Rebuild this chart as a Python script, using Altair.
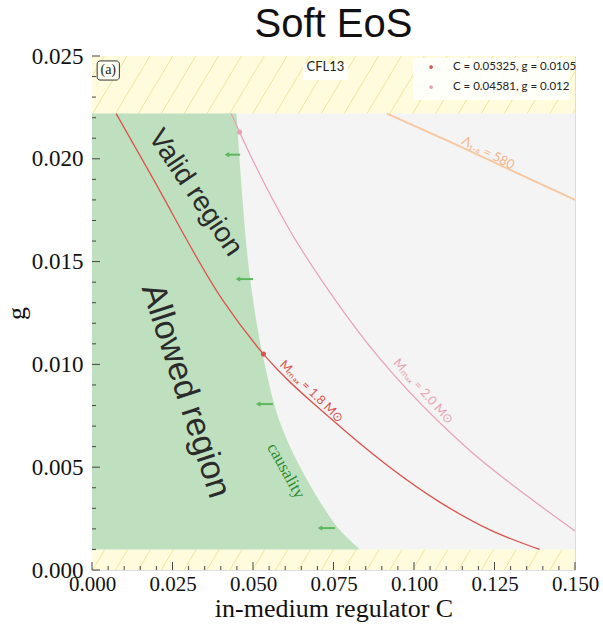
import altair as alt
import pandas as pd

W, H = 483, 514
C_MAX, G_MAX = 0.15, 0.025
G_LOW, G_HIGH = 0.001, 0.0222

# causality boundary: allowed region lies to the left of it
caus_g = [0.001, 0.00204, 0.00258, 0.00438, 0.0068, 0.0104, 0.0143, 0.0185, 0.0222]
caus_c = [0.0832, 0.0764, 0.0739, 0.0668, 0.0593, 0.0531, 0.0490, 0.0465, 0.0449]

# maximum-mass contours
m18_c = [0.0075, 0.018, 0.0407, 0.05325, 0.0739, 0.108, 0.1236, 0.139]
m18_g = [0.0222, 0.0193, 0.0131, 0.0105, 0.0074, 0.0033, 0.00195, 0.001]
m20_c = [0.0432, 0.0458, 0.0615, 0.0739, 0.0817, 0.1174, 0.136, 0.150]
m20_g = [0.0222, 0.0213, 0.0165, 0.0135, 0.0118, 0.0058, 0.0035, 0.0019]

# tidal deformability contour
lam_c = [0.0916, 0.1102, 0.1307, 0.150]
lam_g = [0.0222, 0.0209, 0.0194, 0.0180]

# marked parameter sets
pt_c = [0.05325, 0.04581]
pt_g = [0.0105, 0.0213]
pt_label = ["C = 0.05325, g = 0.0105", "C = 0.04581, g = 0.012"]
pt_color = ["#d9534f", "#e6a1b3"]

# arrows pointing into the allowed region
arrow_g = [0.0202, 0.01415, 0.00807, 0.00204]
arrow_tip = [0.0419, 0.0453, 0.0516, 0.0708]
arrow_tail = [0.0460, 0.0500, 0.0562, 0.0755]

x_ticks = [0.0, 0.025, 0.05, 0.075, 0.1, 0.125, 0.15]
y_ticks = [0.0, 0.005, 0.01, 0.015, 0.02, 0.025]

GREEN = "#bfe0bf"
GREY = "#f4f4f4"
YELLOW = "#fefcdc"
HATCH = "#efe4a2"
SERIF = "Liberation Serif"
SANS = "Liberation Sans"
HUMAN = "Lato"

xscale = alt.Scale(domain=[0, C_MAX], nice=False, zero=False)
yscale = alt.Scale(domain=[0, G_MAX], nice=False, zero=False)
xaxis = alt.Axis(values=x_ticks, format=".3f", title="in-medium regulator C",
                 ticks=False, tickSize=0, domain=False, grid=False,
                 labelFont=SERIF, labelFontSize=21, labelColor="#111",
                 labelPadding=3, labelFlush=False,
                 titleFont=SERIF, titleFontSize=26, titleFontWeight="normal",
                 titleColor="#111", titlePadding=1)
yaxis = alt.Axis(values=y_ticks, format=".3f", title="g",
                 ticks=False, tickSize=0, domain=False, grid=False,
                 labelFont=SERIF, labelFontSize=23, labelColor="#111",
                 labelPadding=9, labelFlush=False,
                 titleFont=SERIF, titleFontSize=26, titleFontWeight="normal",
                 titleColor="#111", titlePadding=2)


def X(f):
    return alt.X(f, type="quantitative", scale=xscale, axis=xaxis)


def Y(f):
    return alt.Y(f, type="quantitative", scale=yscale, axis=yaxis)


# background bands
bands = pd.DataFrame({
    "c0": [0, 0, 0], "c1": [C_MAX] * 3,
    "g0": [G_LOW, G_HIGH, 0], "g1": [G_HIGH, G_MAX, G_LOW],
    "col": [GREY, YELLOW, YELLOW],
})
band_layer = alt.Chart(bands).mark_rect().encode(
    x=X("c0"), x2="c1", y=Y("g0"), y2="g1",
    fill=alt.Fill("col:N", scale=None))

# diagonal hatching in the excluded bands
starts = [-0.014 + 0.0071 * i for i in range(24)]
hatch = pd.DataFrame(
    [{"a": s, "b": s + 0.0107, "g0": G_HIGH, "g1": G_MAX} for s in starts]
    + [{"a": s, "b": s + 0.0038, "g0": 0, "g1": G_LOW} for s in starts])
hatch_layer = alt.Chart(hatch).mark_rule(color=HATCH, strokeWidth=1, clip=True).encode(
    x=X("a"), x2="b", y=Y("g0"), y2="g1")

# allowed region
allowed = pd.DataFrame({"c": caus_c, "g": caus_g})
allowed_layer = alt.Chart(allowed).mark_area(
    orient="horizontal", interpolate="monotone", color=GREEN).encode(
    y=Y("g"), x=X("c"), x2=alt.datum(0))


def curve(cs, gs, color, width):
    df = pd.DataFrame({"c": cs, "g": gs})
    return alt.Chart(df).mark_line(interpolate="monotone", color=color,
                                   strokeWidth=width, clip=True).encode(
        x=X("c"), y=Y("g"), order="c:Q")


lam_layer = curve(lam_c, lam_g, "#f8c7a0", 1.9)
m20_layer = curve(m20_c, m20_g, "#e6a1b3", 1.2)
m18_layer = curve(m18_c, m18_g, "#d9534f", 1.3)

arrows = pd.DataFrame({"tip": arrow_tip, "tail": arrow_tail, "g": arrow_g})
arrow_shaft = alt.Chart(arrows).mark_rule(color="#5cb85c", strokeWidth=2).encode(
    x=X("tip"), x2="tail", y=Y("g"))
arrow_head = alt.Chart(arrows).mark_point(
    shape="triangle-left", filled=True, size=28, color="#5cb85c", opacity=1).encode(
    x=X("tip"), y=Y("g"))

pts = pd.DataFrame({"c": pt_c, "g": pt_g, "col": pt_color})
pts_layer = alt.Chart(pts).mark_circle(size=26, opacity=1).encode(
    x=X("c"), y=Y("g"), color=alt.Color("col:N", scale=None))

# annotation texts
notes = pd.DataFrame([
    {"t": "Valid  region", "c": 0.0320, "g": 0.01834, "a": 56, "s": 28, "f": SANS, "col": "#2b2b2b"},
    {"t": "Allowed region", "c": 0.0290, "g": 0.00871, "a": 72, "s": 34, "f": SANS, "col": "#2b2b2b"},
    {"t": "causality", "c": 0.0602, "g": 0.00482, "a": 61, "s": 17, "f": SERIF, "col": "#2e8b2e"},
    {"t": "Mₘₐₓ = 1.8 M⊙", "c": 0.0683, "g": 0.00868, "a": 44, "s": 12.5, "f": HUMAN, "col": "#d9534f"},
    {"t": "Mₘₐₓ = 2.0 M⊙", "c": 0.1030, "g": 0.00868, "a": 48, "s": 12.5, "f": HUMAN, "col": "#e6a1b3"},
    {"t": "Λ₁.₄ = 580", "c": 0.1230, "g": 0.02028, "a": 27, "s": 13, "f": HUMAN, "col": "#f5b48a"},
])
note_layers = [
    alt.Chart(notes.iloc[[i]]).mark_text(
        angle=float(r.a), fontSize=float(r.s), font=r.f, color=r.col,
        align="center", baseline="middle").encode(x=X("c"), y=Y("g"), text="t:N")
    for i, r in enumerate(notes.itertuples())
]

# boxes: panel tag, model name, legend
boxes = pd.DataFrame({
    "c0": [0.0016, 0.0655, 0.0997], "c1": [0.0085, 0.0795, 0.1484],
    "g0": [0.02383, 0.02383, 0.02286], "g1": [0.02476, 0.02461, 0.02490],
})
tag_box = alt.Chart(boxes.iloc[[0]]).mark_rect(
    fill="#fffef2", stroke="#333", strokeWidth=1, cornerRadius=3).encode(
    x=X("c0"), x2="c1", y=Y("g0"), y2="g1")
name_box = alt.Chart(boxes.iloc[[1]]).mark_rect(fill="white", opacity=0.9).encode(
    x=X("c0"), x2="c1", y=Y("g0"), y2="g1")
legend_box = alt.Chart(boxes.iloc[[2]]).mark_rect(fill="white", opacity=0.85).encode(
    x=X("c0"), x2="c1", y=Y("g0"), y2="g1")

tag_text = alt.Chart(pd.DataFrame({"t": ["(a)"], "c": [0.00505], "g": [0.0243]})).mark_text(
    font=SERIF, fontSize=14, color="#222", align="center", baseline="middle").encode(
    x=X("c"), y=Y("g"), text="t:N")
name_text = alt.Chart(pd.DataFrame({"t": ["CFL13"], "c": [0.0725], "g": [0.02446]})).mark_text(
    font=HUMAN, fontSize=13, color="#222", align="center", baseline="middle").encode(
    x=X("c"), y=Y("g"), text="t:N")

leg = pd.DataFrame({"t": pt_label, "col": pt_color,
                    "c": [0.1053, 0.1053], "tc": [0.1121, 0.1121],
                    "g": [0.02446, 0.02349]})
leg_pts = alt.Chart(leg).mark_circle(size=14, opacity=1).encode(
    x=X("c"), y=Y("g"), color=alt.Color("col:N", scale=None))
leg_txt = alt.Chart(leg).mark_text(font=HUMAN, fontSize=11.5, color="#222",
                                   align="left", baseline="middle").encode(
    x=X("tc"), y=Y("g"), text="t:N")

# inward ticks on the left and bottom edges
xt = pd.DataFrame({"v": [0.005 * i for i in range(31)]})
xt["major"] = [i % 5 == 0 for i in range(31)]
yt = pd.DataFrame({"v": [0.001 * i for i in range(26)]})
yt["major"] = [i % 5 == 0 for i in range(26)]
xtick_major = alt.Chart(xt[xt.major]).mark_rule(color="#444").encode(
    x=X("v"), y=alt.value(H), y2=alt.value(H - 8))
xtick_minor = alt.Chart(xt[~xt.major]).mark_rule(color="#444").encode(
    x=X("v"), y=alt.value(H), y2=alt.value(H - 4))
ytick_major = alt.Chart(yt[yt.major]).mark_rule(color="#444").encode(
    y=Y("v"), x=alt.value(0), x2=alt.value(8))
ytick_minor = alt.Chart(yt[~yt.major]).mark_rule(color="#444").encode(
    y=Y("v"), x=alt.value(0), x2=alt.value(4))

chart = alt.layer(
    band_layer, hatch_layer, allowed_layer,
    lam_layer, m20_layer, m18_layer,
    arrow_shaft, arrow_head, pts_layer,
    *note_layers,
    tag_box, tag_text, name_box, name_text,
    legend_box, leg_pts, leg_txt,
    xtick_major, xtick_minor, ytick_major, ytick_minor,
).properties(
    width=W, height=H,
    title=alt.TitleParams("Soft EoS", font=SANS, fontSize=40, fontWeight="normal",
                          color="#111", anchor="middle", offset=0),
    autosize=alt.AutoSizeParams(type="none"),
    padding={"left": 92, "top": 56, "right": 28, "bottom": 61},
).configure_view(stroke="#555", strokeWidth=1.2).configure(background="white")

chart.save("out.html", embed_options={"renderer": "svg", "actions": False})
